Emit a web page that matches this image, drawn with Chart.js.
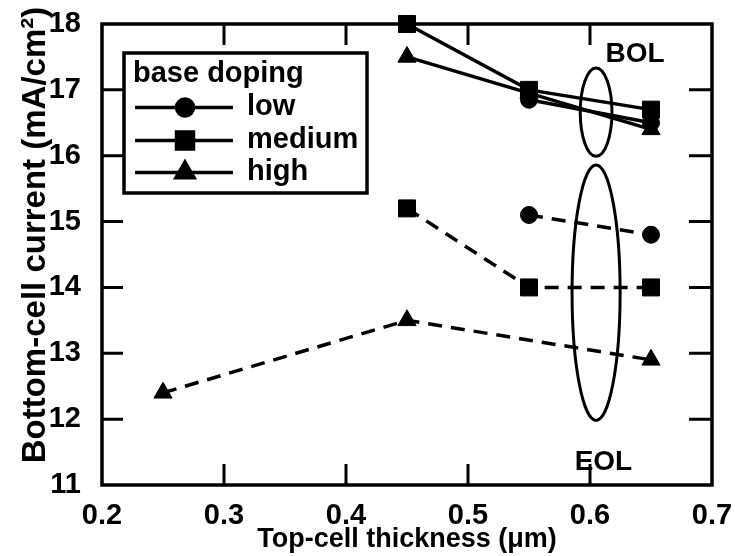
<!DOCTYPE html>
<html>
<head>
<meta charset="utf-8">
<script src="https://cdn.jsdelivr.net/npm/chart.js@4.4.1/dist/chart.umd.min.js"></script>
<style>
  html, body { margin: 0; padding: 0; background: #fff; }
</style>
</head>
<body>
<canvas id="chart" width="735" height="556"></canvas>
<script>
// Top-cell thickness (um) and bottom-cell current (mA/cm2), null = no point
const thickness = [0.25, 0.45, 0.55, 0.65];

const lowBOL    = [null, null, 16.85, 16.5];
const mediumBOL = [null, 18.0, 17.0, 16.7];
const highBOL   = [null, 17.5, 16.95, 16.4];

const lowEOL    = [null, null, 15.1, 14.8];
const mediumEOL = [null, 15.2, 14.0, 14.0];
const highEOL   = [12.4, 13.5, null, 12.9];

const xTicks = [0.2, 0.3, 0.4, 0.5, 0.6, 0.7];
const yTicks = [11, 12, 13, 14, 15, 16, 17, 18];

const legendTitle = 'base doping';
const dopingLabels = ['low', 'medium', 'high'];
const yTitle = 'Bottom-cell current (mA/cm²)';

// ellipses around BOL / EOL groups: [cx, cy, rx, ry] in data units
const bolEllipse = [0.605, 16.66, 0.013, 0.67];
const eolEllipse = [0.605, 13.92, 0.0197, 1.94];
const groupLabels = [
    { text: 'BOL', x: 0.637, y: 17.54 },
    { text: 'EOL', x: 0.611, y: 11.35 }
];

const FONT = '"Liberation Sans", Arial, Helvetica, sans-serif';
const markers = [
    { style: 'circle', radius: 8.5 },
    { style: 'rect', radius: 12 },
    { style: 'triangle', radius: 10.5 }
];

function toPoints(values) {
    const pts = [];
    values.forEach((v, i) => {
        if (v !== null) pts.push({ x: thickness[i], y: v });
    });
    return pts;
}

function makeDataset(label, values, k, dashed) {
    return {
        label: label,
        data: toPoints(values),
        showLine: true,
        borderColor: '#000',
        borderWidth: 3.5,
        borderDash: dashed ? [14, 9] : [],
        pointStyle: markers[k].style,
        pointRadius: markers[k].radius,
        pointBackgroundColor: '#000',
        pointBorderColor: '#000',
        pointBorderWidth: 1,
        clip: false
    };
}

// box and inward tick marks on all four sides, plus the y axis title
const framePlugin = {
    id: 'frame',
    beforeDatasetsDraw(chart) {
        const { ctx, chartArea: a, scales: { x, y } } = chart;
        ctx.save();
        ctx.strokeStyle = '#000';
        ctx.lineWidth = 3;
        ctx.beginPath();
        xTicks.slice(1, -1).forEach(v => {
            const px = x.getPixelForValue(v);
            ctx.moveTo(px, a.bottom); ctx.lineTo(px, a.bottom - 21);
            ctx.moveTo(px, a.top); ctx.lineTo(px, a.top + 21);
        });
        yTicks.slice(1, -1).forEach(v => {
            const py = y.getPixelForValue(v);
            ctx.moveTo(a.left, py); ctx.lineTo(a.left + 21, py);
            ctx.moveTo(a.right, py); ctx.lineTo(a.right - 23, py);
        });
        ctx.stroke();
        ctx.lineWidth = 3.5;
        ctx.strokeRect(a.left, a.top, a.right - a.left, a.bottom - a.top);

        // y title sits a bit above the middle of the axis in the original
        ctx.translate(36, 235);
        ctx.rotate(-Math.PI / 2);
        ctx.fillStyle = '#000';
        ctx.font = 'bold 33px ' + FONT;
        ctx.textAlign = 'center';
        ctx.textBaseline = 'middle';
        ctx.fillText(yTitle, 0, 0);
        ctx.restore();
    }
};

// BOL / EOL ellipses and their labels
const groupPlugin = {
    id: 'groups',
    afterDatasetsDraw(chart) {
        const { ctx, scales: { x, y } } = chart;
        ctx.save();
        ctx.strokeStyle = '#000';
        ctx.lineWidth = 3;
        [bolEllipse, eolEllipse].forEach(e => {
            const cx = x.getPixelForValue(e[0]);
            const cy = y.getPixelForValue(e[1]);
            const rx = Math.abs(x.getPixelForValue(e[0] + e[2]) - cx);
            const ry = Math.abs(y.getPixelForValue(e[1] + e[3]) - cy);
            ctx.beginPath();
            ctx.ellipse(cx, cy, rx, ry, 0, 0, Math.PI * 2);
            ctx.stroke();
        });
        ctx.fillStyle = '#000';
        ctx.font = 'bold 28px ' + FONT;
        ctx.textAlign = 'center';
        ctx.textBaseline = 'middle';
        groupLabels.forEach(l => {
            ctx.fillText(l.text, x.getPixelForValue(l.x), y.getPixelForValue(l.y));
        });
        ctx.restore();
    }
};

// boxed legend with line + marker samples
const legendPlugin = {
    id: 'dopingLegend',
    afterDraw(chart) {
        const ctx = chart.ctx;
        const box = { left: 124, top: 53, width: 243, height: 140 };
        ctx.save();
        ctx.fillStyle = '#fff';
        ctx.fillRect(box.left, box.top, box.width, box.height);
        ctx.strokeStyle = '#000';
        ctx.lineWidth = 3.5;
        ctx.strokeRect(box.left, box.top, box.width, box.height);

        ctx.fillStyle = '#000';
        ctx.font = 'bold 29px ' + FONT;
        ctx.textBaseline = 'alphabetic';
        ctx.textAlign = 'left';
        ctx.fillText(legendTitle, 133, 82);

        const baselines = [115, 148, 180];
        dopingLabels.forEach((label, i) => {
            const ds = chart.data.datasets[i];
            const ly = baselines[i] - 7.5;
            ctx.beginPath();
            ctx.lineWidth = 3.5;
            ctx.setLineDash([]);
            ctx.moveTo(135, ly);
            ctx.lineTo(233, ly);
            ctx.stroke();
            Chart.helpers.drawPoint(ctx, {
                pointStyle: ds.pointStyle,
                radius: ds.pointRadius,
                rotation: 0,
                borderWidth: 1
            }, 185, ly);
            ctx.fillText(label, 247, baselines[i]);
        });
        ctx.restore();
    }
};

const ctx = document.getElementById('chart').getContext('2d');
new Chart(ctx, {
    type: 'scatter',
    data: {
        datasets: [
            makeDataset('low', lowBOL, 0, false),
            makeDataset('medium', mediumBOL, 1, false),
            makeDataset('high', highBOL, 2, false),
            makeDataset('low EOL', lowEOL, 0, true),
            makeDataset('medium EOL', mediumEOL, 1, true),
            makeDataset('high EOL', highEOL, 2, true)
        ]
    },
    options: {
        responsive: false,
        animation: false,
        devicePixelRatio: 1,
        layout: {
            autoPadding: false,
            padding: { left: 0, right: 23, top: 24, bottom: 0 }
        },
        plugins: {
            legend: { display: false },
            tooltip: { enabled: false }
        },
        scales: {
            x: {
                type: 'linear',
                min: 0.2,
                max: 0.7,
                grid: { display: false },
                border: { display: false },
                afterBuildTicks: s => { s.ticks = xTicks.map(v => ({ value: v })); },
                ticks: {
                    autoSkip: false,
                    maxRotation: 0,
                    padding: 6,
                    color: '#000',
                    font: { family: FONT, size: 29, weight: 'bold' },
                    callback: v => v.toFixed(1)
                },
                title: {
                    display: true,
                    text: 'Top-cell thickness (μm)',
                    color: '#000',
                    font: { family: FONT, size: 27, weight: 'bold' },
                    padding: { top: 0, bottom: 0 }
                },
                afterFit: s => {
                    s.height = 71;
                    s.paddingLeft = 0;
                    s.paddingRight = 0;
                }
            },
            y: {
                type: 'linear',
                min: 11,
                max: 18,
                grid: { display: false },
                border: { display: false },
                afterBuildTicks: s => { s.ticks = yTicks.map(v => ({ value: v })); },
                ticks: {
                    autoSkip: false,
                    padding: 13,
                    color: '#000',
                    font: { family: FONT, size: 29, weight: 'bold' }
                },
                afterFit: s => {
                    s.width = 102;
                    s.paddingTop = 0;
                    s.paddingBottom = 0;
                }
            }
        }
    },
    plugins: [framePlugin, groupPlugin, legendPlugin]
});
</script>
</body>
</html>
